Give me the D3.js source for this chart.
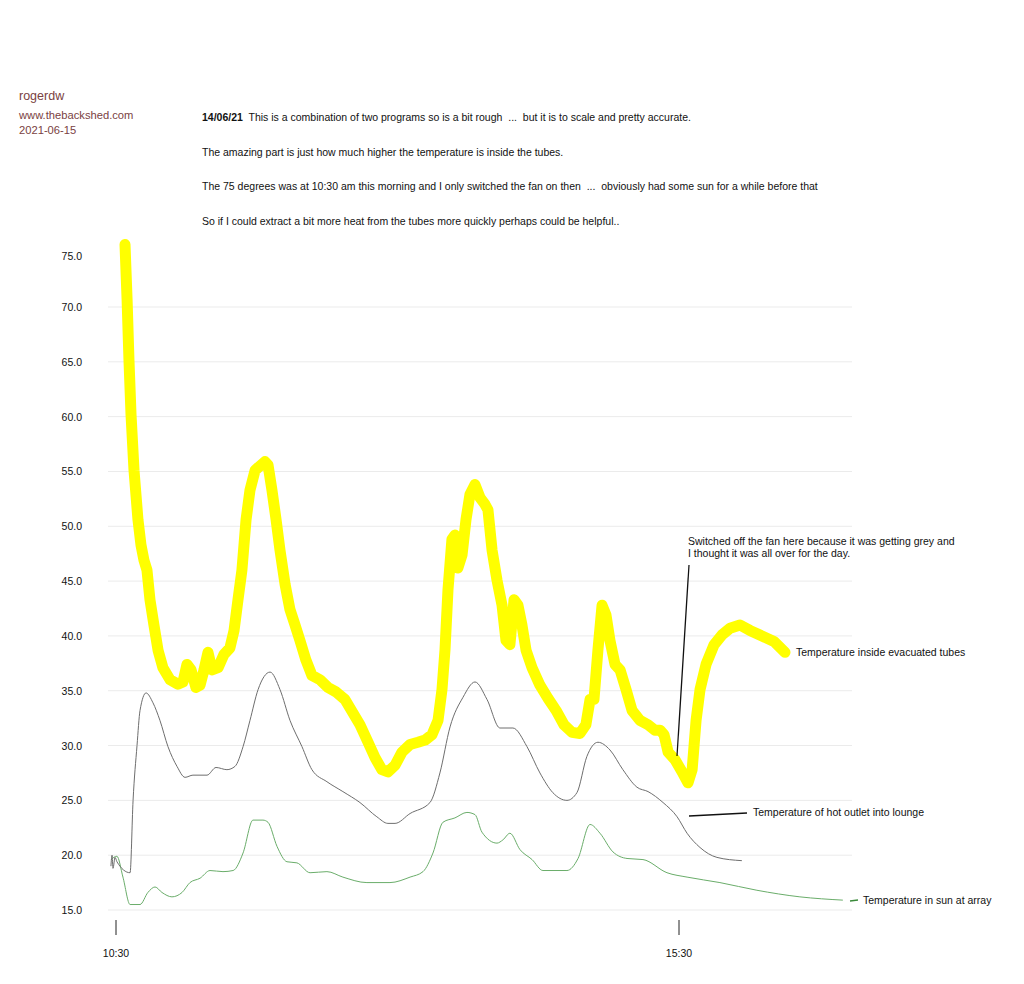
<!DOCTYPE html>
<html>
<head>
<meta charset="utf-8">
<script src="https://cdn.jsdelivr.net/npm/d3@7/dist/d3.min.js"></script>
<style>
  body { margin: 0; background: #fff; }
  svg { display: block; font-family: "Liberation Sans", Arial, sans-serif; }
</style>
</head>
<body>
<div id="chart"></div>
<script>
// minutes after 10:30 and temperature (deg C)
var tubesTime = [4.8, 5.9, 6.9, 8.0, 9.6, 11.7, 13.3, 14.9, 16.5, 18.1, 20.2, 22.4, 25.0, 28.8, 33.0, 35.7, 37.8, 40.0, 42.6, 44.8, 46.9, 49.0, 51.2, 54.4, 57.5, 60.7, 62.9, 65.0, 67.1, 69.3, 71.4, 74.1, 76.7, 79.4, 81.0, 83.1, 85.3, 87.4, 90.1, 92.7, 95.4, 98.0, 101.2, 104.4, 108.7, 113.0, 117.2, 122.0, 125.8, 130.0, 134.3, 138.0, 141.7, 144.9, 148.7, 152.4, 156.7, 160.9, 164.7, 168.4, 171.6, 173.7, 175.3, 176.9, 179.0, 180.6, 182.2, 184.4, 186.5, 188.6, 191.3, 194.0, 196.6, 198.2, 200.4, 203.0, 205.7, 207.8, 209.9, 212.1, 214.2, 216.3, 218.5, 221.7, 225.9, 230.2, 234.5, 238.7, 243.0, 247.2, 250.4, 252.6, 254.7, 256.8, 259.0, 261.1, 263.2, 265.9, 268.6, 271.8, 275.0, 279.2, 283.5, 287.2, 289.9, 292.0, 294.2, 297.9, 301.6, 304.8, 307.0, 309.1, 311.2, 314.4, 318.7, 323.0, 327.2, 332.5, 337.8, 344.2, 350.6, 356.5];
var tubesTemp = [75.7, 70.7, 65.2, 60.2, 55.1, 50.6, 48.3, 46.9, 46.0, 43.3, 41.0, 38.7, 37.1, 36.0, 35.6, 35.8, 37.4, 36.9, 35.3, 35.5, 36.9, 38.5, 36.9, 37.1, 38.3, 38.9, 40.5, 43.3, 46.0, 50.6, 53.3, 55.1, 55.5, 55.9, 55.6, 53.3, 50.6, 47.8, 44.7, 42.4, 41.0, 39.6, 37.8, 36.4, 36.0, 35.3, 34.9, 34.2, 33.1, 31.9, 30.3, 28.9, 27.8, 27.6, 28.2, 29.4, 30.1, 30.3, 30.5, 31.0, 32.3, 35.1, 38.7, 44.2, 48.8, 49.2, 46.2, 47.4, 50.6, 52.9, 53.8, 52.6, 52.0, 51.5, 47.8, 45.1, 42.8, 39.6, 39.2, 43.3, 42.8, 41.0, 38.7, 37.1, 35.5, 34.3, 33.2, 31.9, 31.2, 31.1, 31.9, 34.2, 34.2, 38.7, 42.8, 41.9, 39.6, 37.4, 36.9, 35.1, 33.2, 32.3, 31.9, 31.4, 31.4, 31.0, 29.4, 28.7, 27.6, 26.6, 27.8, 32.3, 35.1, 37.4, 39.2, 40.1, 40.7, 41.0, 40.5, 40.0, 39.5, 38.5];

var outletTime = [-2.7, -2.1, -1.6, -0.5, 0.5, 7.5, 9.1, 11.2, 12.8, 16.0, 19.7, 23.4, 27.7, 32.5, 36.8, 41.0, 48.5, 53.3, 59.1, 63.4, 67.7, 71.4, 75.7, 82.1, 87.4, 92.7, 99.1, 104.4, 112.4, 120.9, 130.0, 139.0, 144.9, 148.7, 156.7, 167.3, 172.6, 178.0, 184.9, 191.3, 197.7, 204.6, 211.5, 219.0, 225.9, 232.8, 240.3, 245.6, 250.9, 256.8, 263.2, 270.1, 277.6, 283.5, 291.5, 299.0, 304.3, 311.2, 320.2, 333.5];
var outletTemp = [19.0, 20.0, 18.8, 19.8, 19.4, 18.4, 25.0, 30.0, 33.2, 34.8, 33.9, 32.3, 29.9, 28.1, 27.1, 27.3, 27.3, 28.0, 27.8, 28.1, 29.9, 32.3, 35.1, 36.7, 35.1, 32.3, 29.9, 27.8, 26.7, 25.8, 24.8, 23.5, 22.9, 22.9, 23.8, 24.8, 27.5, 31.7, 34.4, 35.8, 34.2, 31.6, 31.6, 29.9, 27.5, 25.7, 25.0, 25.7, 29.0, 30.3, 29.6, 27.8, 26.2, 25.8, 24.8, 23.5, 22.0, 20.7, 19.8, 19.5];

var sunTime = [-2.7, 0.5, 3.7, 7.5, 12.8, 17.0, 20.8, 24.5, 29.8, 35.2, 39.4, 44.8, 50.1, 57.0, 62.4, 67.7, 73.0, 78.3, 81.0, 85.8, 91.1, 96.4, 103.4, 112.4, 120.9, 133.7, 146.0, 156.7, 163.6, 168.9, 174.2, 180.6, 187.0, 191.3, 195.0, 203.0, 206.2, 209.9, 215.3, 221.7, 227.5, 240.3, 246.2, 252.6, 257.9, 264.8, 272.3, 280.8, 293.6, 304.3, 321.8, 341.5, 364.4, 387.3];
var sunTemp = [19.6, 19.9, 18.0, 15.5, 15.5, 16.6, 17.1, 16.6, 16.2, 16.6, 17.5, 17.9, 18.6, 18.5, 18.6, 20.2, 23.2, 23.2, 23.0, 20.8, 19.4, 19.3, 18.4, 18.5, 18.0, 17.5, 17.5, 18.0, 18.5, 20.2, 23.0, 23.4, 23.9, 23.7, 22.1, 21.1, 21.4, 22.0, 20.5, 19.6, 18.6, 18.6, 19.7, 22.8, 22.0, 20.3, 19.7, 19.6, 18.4, 18.0, 17.5, 16.8, 16.2, 15.9];

var yTicks = [15, 20, 25, 30, 35, 40, 45, 50, 55, 60, 65, 70, 75];
var gridValues = [15, 20, 25, 30, 35, 40, 45, 50, 55, 60, 65, 70];
var xTicks = [0, 300];
var xTickLabels = ["10:30", "15:30"];

var headerLines = ["www.thebackshed.com", "2021-06-15"];
var noteLines = [
  "This is a combination of two programs so is a bit rough  ...  but it is to scale and pretty accurate.",
  "The amazing part is just how much higher the temperature is inside the tubes.",
  "The 75 degrees was at 10:30 am this morning and I only switched the fan on then  ...  obviously had some sun for a while before that",
  "So if I could extract a bit more heat from the tubes more quickly perhaps could be helpful.."
];

var
  WIDTH = 1024,
  HEIGHT = 984,
  FONT = 10.5;

var svg = d3.select("#chart").append("svg")
  .attr("width", WIDTH)
  .attr("height", HEIGHT);

var x = d3.scaleLinear().domain([0, 300]).range([116, 679]);
var y = d3.scaleLinear().domain([15, 70]).range([910, 307]);

// header
svg.append("text").attr("x", 19).attr("y", 100)
  .attr("font-size", 12.5).attr("fill", "#7a4242").text("rogerdw");
headerLines.forEach(function(t, i){
  svg.append("text").attr("x", 19).attr("y", 119 + i * 15)
    .attr("font-size", 11.2).attr("fill", "#7a4242").text(t);
});

// notes
noteLines.forEach(function(t, i){
  var line = svg.append("text").attr("x", 202).attr("y", 121 + i * 34.7)
    .attr("font-size", FONT).attr("fill", "#111");
  if (i === 0) {
    line.append("tspan").attr("font-weight", "bold").text("14/06/21");
    line.append("tspan").text("  " + t);
  } else {
    line.text(t);
  }
});
svg.selectAll("text tspan, text").attr("xml:space", "preserve");

// grid
svg.append("g").selectAll("line").data(gridValues).join("line")
  .attr("x1", 108).attr("x2", 852)
  .attr("y1", function(d){ return y(d); })
  .attr("y2", function(d){ return y(d); })
  .attr("stroke", "#ebebeb").attr("stroke-width", 1);

// y labels
svg.append("g").selectAll("text").data(yTicks).join("text")
  .attr("x", 82)
  .attr("y", function(d){ return y(d) + (d === 75 ? 8 : 4); })
  .attr("text-anchor", "end")
  .attr("font-size", FONT).attr("fill", "#111")
  .text(function(d){ return d3.format(".1f")(d); });

// x ticks
var xg = svg.append("g").selectAll("g").data(xTicks).join("g")
  .attr("transform", function(d){ return "translate(" + x(d) + ",0)"; });
xg.append("line").attr("y1", 920).attr("y2", 935).attr("stroke", "#222");
xg.append("text").attr("y", 957).attr("text-anchor", "middle")
  .attr("font-size", FONT).attr("fill", "#111")
  .text(function(d, i){ return xTickLabels[i]; });

function series(times, temps){
  return times.map(function(t, i){ return [t, temps[i]]; });
}

var line = d3.line()
  .x(function(d){ return x(d[0]); })
  .y(function(d){ return y(d[1]); })
  .curve(d3.curveMonotoneX);

svg.append("path").datum(series(sunTime, sunTemp))
  .attr("d", line).attr("fill", "none")
  .attr("stroke", "#6aad6a").attr("stroke-width", 1);

svg.append("path").datum(series(outletTime, outletTemp))
  .attr("d", line).attr("fill", "none")
  .attr("stroke", "#6e6e6e").attr("stroke-width", 1);

svg.append("path").datum(series(tubesTime, tubesTemp))
  .attr("d", d3.line().x(function(d){ return x(d[0]); }).y(function(d){ return y(d[1]); }))
  .attr("fill", "none")
  .attr("stroke", "#ffff00").attr("stroke-width", 11)
  .attr("stroke-linejoin", "round").attr("stroke-linecap", "round");

// annotations
svg.append("text").attr("x", 688).attr("y", 545).attr("font-size", FONT).attr("fill", "#111")
  .text("Switched off the fan here because it was getting grey and");
svg.append("text").attr("x", 688).attr("y", 557).attr("font-size", FONT).attr("fill", "#111")
  .text("I thought it was all over for the day.");
svg.append("line").attr("x1", 689).attr("y1", 565).attr("x2", 677).attr("y2", 756)
  .attr("stroke", "#111").attr("stroke-width", 1.3);

svg.append("text").attr("x", 796).attr("y", 656).attr("font-size", FONT).attr("fill", "#111")
  .text("Temperature inside evacuated tubes");

svg.append("line").attr("x1", 689).attr("y1", 816).attr("x2", 747).attr("y2", 813)
  .attr("stroke", "#111").attr("stroke-width", 1.3);
svg.append("text").attr("x", 753).attr("y", 816).attr("font-size", FONT).attr("fill", "#111")
  .text("Temperature of hot outlet into lounge");

svg.append("line").attr("x1", 850).attr("y1", 901).attr("x2", 858).attr("y2", 900)
  .attr("stroke", "#3a8a3a").attr("stroke-width", 1.3);
svg.append("text").attr("x", 863).attr("y", 904).attr("font-size", FONT).attr("fill", "#111")
  .text("Temperature in sun at array");
</script>
</body>
</html>
